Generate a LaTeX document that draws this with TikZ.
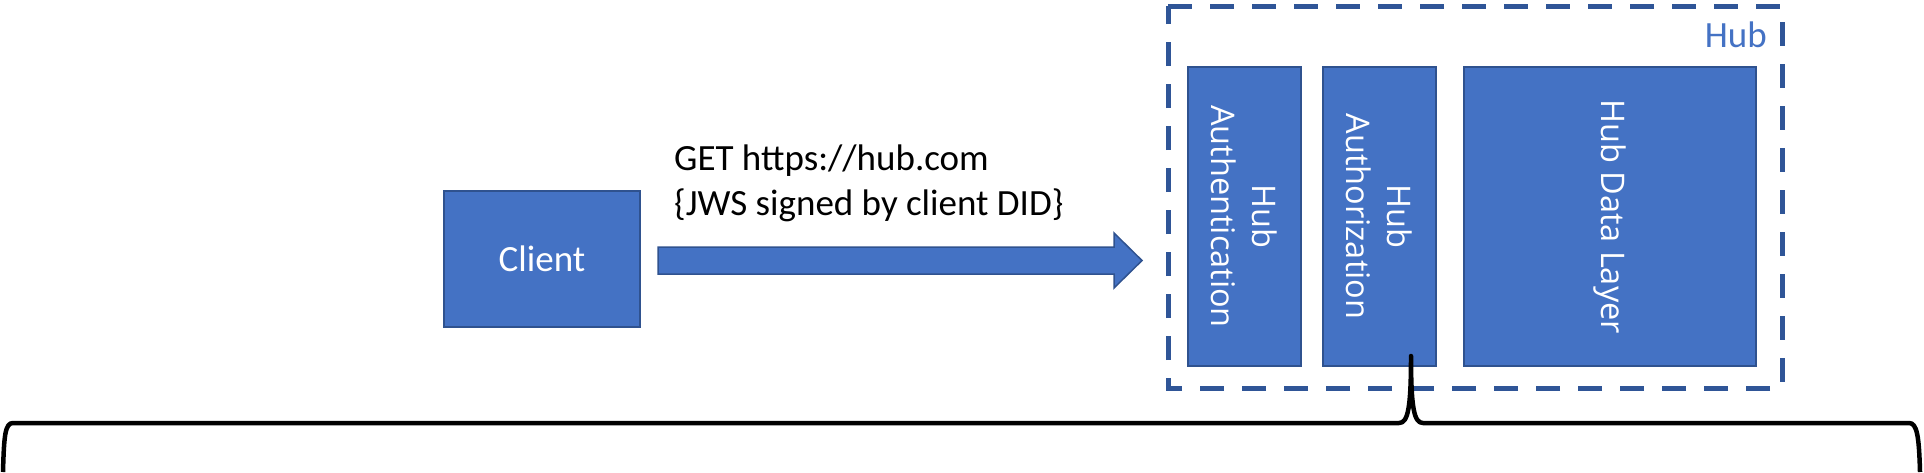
\documentclass[tikz,border=0pt]{standalone}
\usepackage{fontspec}
\usetikzlibrary{calc}
\setmainfont{Carlito}
\newfontfamily\segoe{Open Sans}
\definecolor{boxfill}{HTML}{4472C4}
\definecolor{boxline}{HTML}{2F528F}
\definecolor{hubline}{HTML}{2F5597}
\begin{document}
\begin{tikzpicture}[x=1pt,y=-1pt,
  bluebox/.style={draw=boxline, fill=boxfill, line width=1.5pt, inner sep=0pt, text=white},
  vtext/.style={font=\segoe\fontsize{32.5}{41}\selectfont, text=white, align=center, rotate=-90, inner sep=0pt},
  calib/.style={font=\fontsize{37}{45}\selectfont, inner sep=0pt},
  hubdash/.style={draw=hubline, line width=5pt, dash pattern=on 24pt off 18pt},
  bracestyle/.style={draw=black, line width=4.5pt, line join=round}]
\useasboundingbox (0,0) rectangle (1924,472);

% Client
\node[bluebox, calib, text=white, minimum width=196pt, minimum height=136pt] (client) at (542,259) {Client};

% request label
\node[calib, anchor=base west] (req1) at (674,170) {GET https://hub.com};
\node[calib, anchor=base west] (req2) at (674,215) {\{JWS signed by client DID\}};

% block arrow
\coordinate (arrtail) at (658,260.5);
\coordinate (arrtip) at (1142,260.5);
\draw[draw=boxline, fill=boxfill, line width=1.5pt, line join=miter]
  ($(arrtail)+(0,-13.5)$) -- (1114,247) -- (1114,233) -- (arrtip) -- (1114,288) -- (1114,274) -- ($(arrtail)+(0,13.5)$) -- cycle;

% Hub container
\draw[hubdash] (1168,6) -- (1782,6) -- (1782,388) -- (1168,388) -- cycle;
\coordinate (hub) at (1475,197);
\node[calib, text=boxfill, anchor=base east] (hublabel) at (1767,47) {Hub};

% inner boxes
\node[bluebox, minimum width=113pt, minimum height=299pt] (auth) at (1244.5,216.5) {};
\node[vtext] (authtext) at (auth.center) {Hub\\Authentication};
\node[bluebox, minimum width=113pt, minimum height=299pt] (authz) at (1379.5,216.5) {};
\node[vtext] (authztext) at (authz.center) {Hub\\Authorization};
\node[bluebox, minimum width=292pt, minimum height=299pt] (data) at (1610,216.5) {};
\node[vtext] (datatext) at (data.center) {Hub Data Layer};

% brace
\coordinate (bracetip) at (1411,356);
\draw[bracestyle] (3,472) .. controls (4,436) and (5,423) .. (13,423) -- (1399,423)
  .. controls (1408,423) and (1411,408) .. (bracetip)
  .. controls (1411,408) and (1414,423) .. (1423,423) -- (1909,423)
  .. controls (1917,423) and (1919,436) .. (1920,472);
\end{tikzpicture}
\end{document}
